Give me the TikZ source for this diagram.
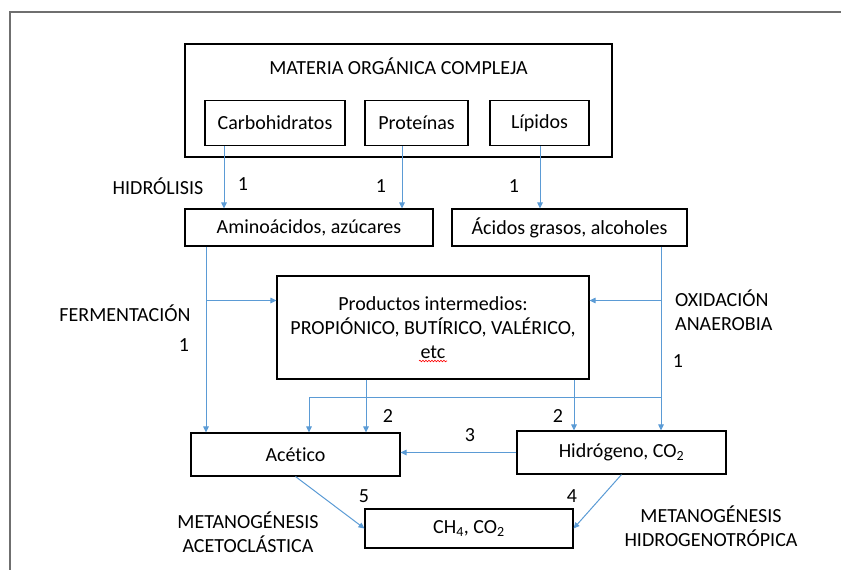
\documentclass[tikz,border=0pt]{standalone}
\usepackage{fontspec}
\setmainfont{Carlito}[Ligatures={NoCommon}]
\usetikzlibrary{arrows.meta,decorations.pathmorphing}
\definecolor{arrblue}{HTML}{5B9BD5}
\definecolor{framegray}{HTML}{6F6F6F}
\tikzset{
  box/.style={draw=black, line width=1.1pt, rectangle, inner sep=0pt, align=center},
  arr/.style={draw=arrblue, line width=1pt, -{Triangle[length=6pt,width=5.5pt]}},
  ln/.style={draw=arrblue, line width=1pt},
  lbl/.style={inner sep=0pt, align=center},
}
\begin{document}
\begin{tikzpicture}[x=1pt,y=-1pt,font=\fontsize{20}{24}\selectfont]
\useasboundingbox (0,0) rectangle (841,570);
% outer frame
\draw[framegray, line width=1.5pt] (10,575) -- (10,12) -- (846,12);

% boxes
\node[box, minimum width=427pt, minimum height=113pt] (mat) at (398.5,100.5) {};
\node[lbl] (matt) at (398.5,66) {MATERIA ORGÁNICA COMPLEJA};
\node[box, minimum width=140pt, minimum height=45pt] (carb) at (275,123) {Carbohidratos};
\node[box, minimum width=103pt, minimum height=45pt] (prot) at (416.5,123) {Proteínas};
\node[box, minimum width=99pt, minimum height=45pt] (lip) at (539.5,123) {Lípidos};
\node[box, minimum width=248pt, minimum height=37pt] (amino) at (309,227.5) {Aminoácidos, azúcares};
\node[box, minimum width=235pt, minimum height=37pt] (acid) at (569.5,227.5) {Ácidos grasos, alcoholes};
\node[box, minimum width=312pt, minimum height=103pt] (prod) at (433,327.5) {Productos intermedios:\\PROPIÓNICO, BUTÍRICO, VALÉRICO,\\etc};
\node[box, minimum width=209pt, minimum height=43pt] (acet) at (295.5,454.5) {Acético};
\node[box, minimum width=209pt, minimum height=43pt] (hid) at (621.5,452.5) {Hidrógeno, CO\textsubscript{2}};
\node[box, minimum width=208pt, minimum height=39pt] (ch4) at (469,528.5) {CH\textsubscript{4}, CO\textsubscript{2}};

% spell-check underline under etc
\coordinate (w1) at (419,361);
\coordinate (w2) at (447,361);
\draw[red, line width=0.6pt, decorate, decoration={snake, amplitude=0.8pt, segment length=3pt}] (w1) -- (w2);

% coordinates
\coordinate (xl) at (206,0);
\coordinate (xr) at (661,0);
\coordinate (xm) at (309,0);
\coordinate (xp1) at (366,0);
\coordinate (xp2) at (574,0);
\coordinate (l1) at (206,300.5);
\coordinate (r1) at (661,300.5);
\coordinate (r2) at (661,397);
\coordinate (m2) at (309,397);

% hydrolysis arrows
\draw[arr] (carb.south -| 224,0) -- (amino.north -| 224,0);
\draw[arr] (prot.south -| 402,0) -- (amino.north -| 402,0);
\draw[arr] (lip.south -| 540,0) -- (acid.north -| 540,0);

% left vertical (fermentation)
\draw[arr] (amino.south -| xl) -- (acet.north -| xl);
\draw[arr] (l1) -- (l1 -| prod.west);

% right vertical (oxidation)
\draw[arr] (acid.south -| xr) -- (hid.north -| xr);
\draw[arr] (r1) -- (r1 -| prod.east);
\draw[ln] (r2) -- (m2);
\draw[arr] (m2) -- (acet.north -| xm);

% products to acetic / hydrogen
\draw[arr] (prod.south -| xp1) -- (acet.north -| xp1);
\draw[arr] (prod.south -| xp2) -- (hid.north -| xp2);

% hydrogen to acetic
\draw[arr] (hid.west) -- (hid.west -| acet.east);

% methanogenesis
\draw[arr] (acet.south) -- (ch4.west);
\draw[arr] (hid.south) -- (ch4.east);

% labels
\node[lbl] (hidro) at (158,186) {HIDRÓLISIS};
\node[lbl] (n1a) at (243,184) {1};
\node[lbl] (n1b) at (381,186) {1};
\node[lbl] (n1c) at (514,186) {1};
\node[lbl] (ferm) at (125,313) {FERMENTACIÓN};
\node[lbl] (n1d) at (184,345) {1};
\node[lbl, align=left, anchor=west] (oxi) at (675,310) {OXIDACIÓN\\ANAEROBIA};
\node[lbl] (n1e) at (678,361) {1};
\node[lbl] (n2a) at (388,416) {2};
\node[lbl] (n2b) at (558,416) {2};
\node[lbl] (n3) at (470,435) {3};
\node[lbl] (n5) at (364,496) {5};
\node[lbl] (n4) at (572,496) {4};
\node[lbl] (metaa) at (248,532) {METANOGÉNESIS\\ACETOCLÁSTICA};
\node[lbl] (metah) at (711,526) {METANOGÉNESIS\\HIDROGENOTRÓPICA};
\end{tikzpicture}
\end{document}
